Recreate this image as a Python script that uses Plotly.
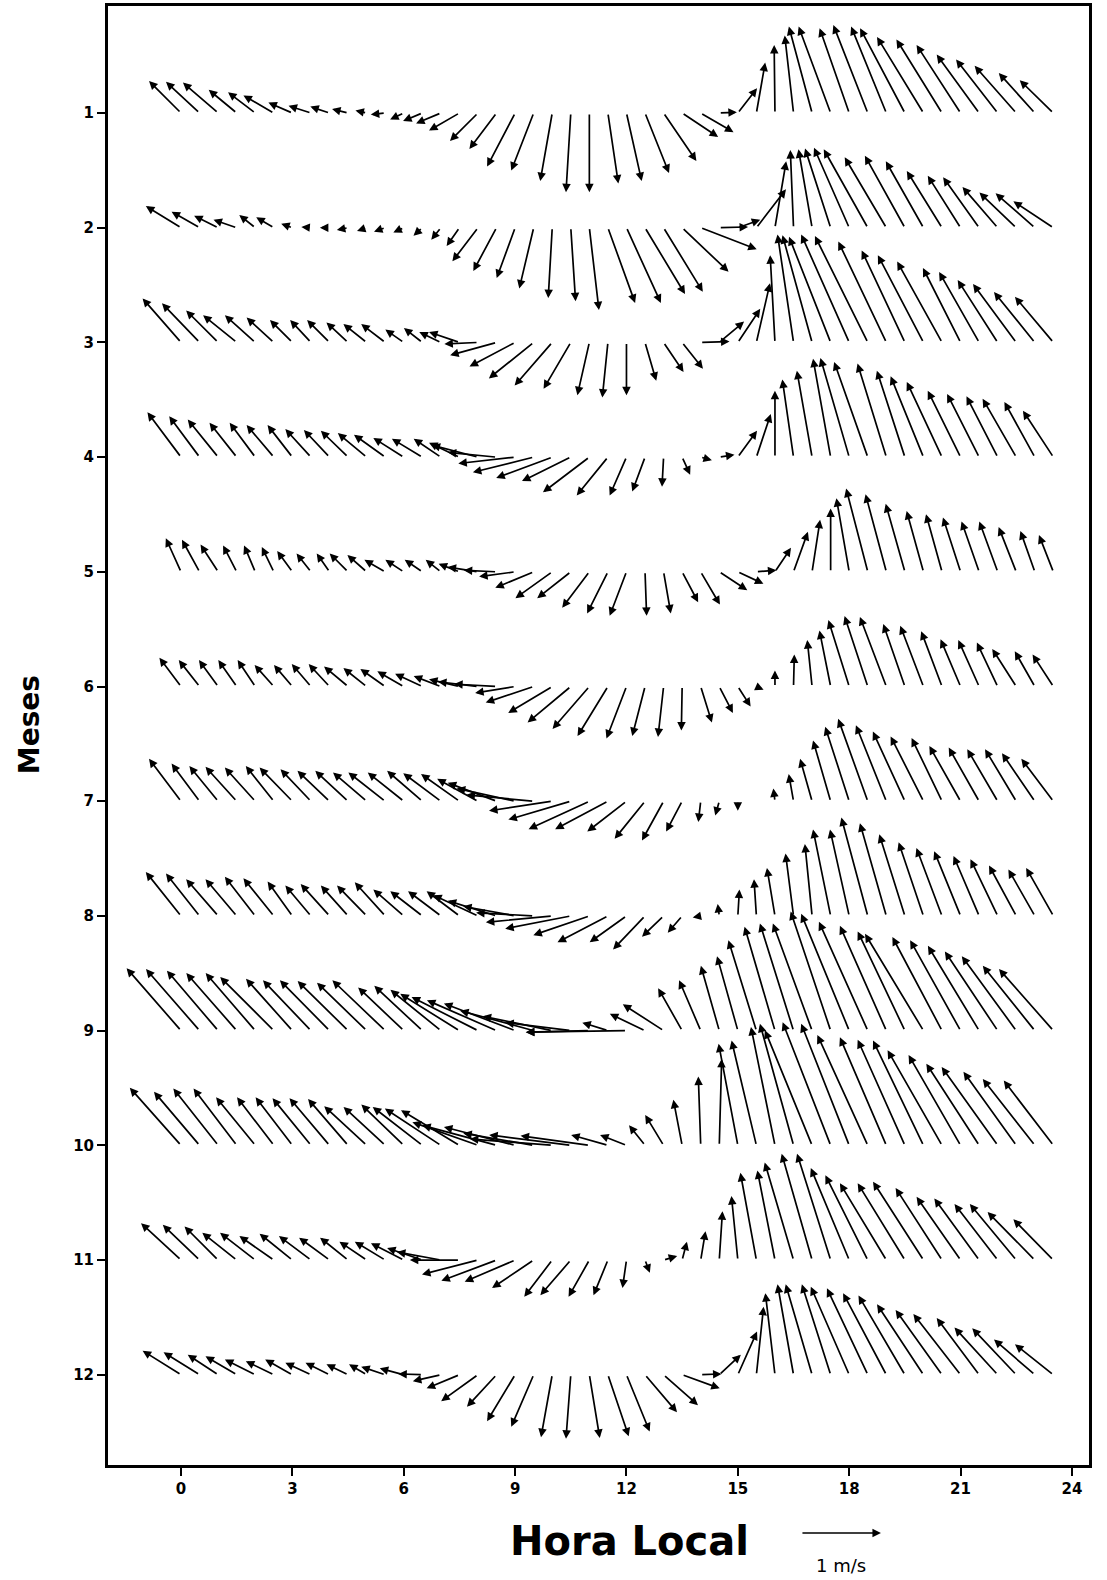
import plotly.graph_objects as go

# ---------------- data (wind components, m/s) ----------------
HOURS = [0, 0.5, 1, 1.5, 2, 2.5, 3, 3.5, 4, 4.5, 5, 5.5, 6, 6.5, 7, 7.5,
         8, 8.5, 9, 9.5, 10, 10.5, 11, 11.5, 12, 12.5, 13, 13.5, 14, 14.5, 15, 15.5,
         16, 16.5, 17, 17.5, 18, 18.5, 19, 19.5, 20, 20.5, 21, 21.5, 22, 22.5, 23, 23.5]
MONTHS = [1, 2, 3, 4, 5, 6, 7, 8, 9, 10, 11, 12]
X_TICKS = [0, 3, 6, 9, 12, 15, 18, 21, 24]

u01 = [-0.40,-0.42,-0.44,-0.35,-0.34,-0.38,-0.30,-0.28,-0.24,-0.20,-0.14,-0.18,-0.17,-0.24,-0.31,-0.38,
       -0.35,-0.34,-0.35,-0.28,-0.15,-0.06,0.00,0.13,0.19,0.30,0.41,0.45,0.41,0.22,0.24,0.11,
       -0.01,-0.11,-0.29,-0.40,-0.37,-0.43,-0.44,-0.56,-0.58,-0.57,-0.55,-0.53,-0.52,-0.52,-0.45,-0.42]
v01 = [0.40,0.39,0.38,0.29,0.26,0.22,0.13,0.09,0.08,0.05,0.03,-0.02,-0.08,-0.10,-0.13,-0.22,
       -0.35,-0.45,-0.67,-0.72,-0.85,-0.99,-0.99,-0.88,-0.85,-0.75,-0.60,-0.30,-0.24,0.01,0.31,0.63,
       0.85,0.97,1.08,1.08,1.06,1.10,1.08,1.06,0.95,0.92,0.85,0.73,0.67,0.59,0.50,0.41]

u02 = [-0.44,-0.35,-0.30,-0.29,-0.20,-0.22,-0.14,-0.12,-0.12,-0.14,-0.12,-0.14,-0.13,-0.11,-0.12,-0.16,
       -0.32,-0.29,-0.23,-0.18,-0.05,0.06,0.12,0.34,0.43,0.50,0.49,0.58,0.70,0.36,0.28,0.37,
       0.14,-0.04,-0.17,-0.32,-0.44,-0.55,-0.52,-0.50,-0.47,-0.44,-0.41,-0.45,-0.44,-0.46,-0.49,-0.50]
v02 = [0.27,0.20,0.15,0.10,0.16,0.13,0.05,0.01,0.00,-0.03,-0.04,-0.05,-0.06,-0.10,-0.15,-0.23,
       -0.42,-0.54,-0.63,-0.76,-0.88,-0.92,-1.03,-0.94,-0.94,-0.83,-0.80,-0.55,-0.27,0.01,0.10,0.48,
       0.83,0.97,0.98,0.99,1.00,0.98,0.88,0.90,0.83,0.71,0.65,0.63,0.51,0.44,0.43,0.33]

u03 = [-0.48,-0.47,-0.40,-0.42,-0.38,-0.34,-0.28,-0.26,-0.28,-0.27,-0.29,-0.30,-0.23,-0.23,-0.27,-0.38,
       -0.42,-0.58,-0.57,-0.56,-0.47,-0.34,-0.15,-0.07,0.00,0.14,0.25,0.26,0.36,0.31,0.28,0.17,
       -0.06,-0.20,-0.37,-0.52,-0.60,-0.66,-0.60,-0.54,-0.57,-0.56,-0.47,-0.50,-0.50,-0.54,-0.51,-0.48]
v03 = [0.55,0.49,0.40,0.34,0.34,0.31,0.28,0.28,0.28,0.25,0.23,0.23,0.16,0.18,0.13,0.13,
       -0.02,-0.16,-0.30,-0.45,-0.54,-0.58,-0.66,-0.69,-0.66,-0.48,-0.37,-0.33,0.01,0.26,0.42,0.74,
       1.09,1.35,1.34,1.32,1.35,1.33,1.26,1.15,1.09,1.01,0.93,0.88,0.78,0.73,0.63,0.57]

u04 = [-0.42,-0.38,-0.38,-0.34,-0.32,-0.34,-0.31,-0.32,-0.32,-0.34,-0.36,-0.39,-0.38,-0.38,-0.34,-0.38,
       -0.58,-0.61,-0.71,-0.76,-0.70,-0.61,-0.58,-0.39,-0.21,-0.16,-0.02,0.10,0.14,0.19,0.24,0.18,
       0.00,-0.14,-0.19,-0.22,-0.36,-0.42,-0.36,-0.35,-0.41,-0.44,-0.41,-0.40,-0.39,-0.42,-0.38,-0.38]
v04 = [0.56,0.51,0.47,0.43,0.43,0.40,0.40,0.35,0.34,0.33,0.30,0.28,0.24,0.23,0.23,0.18,
       0.15,0.06,-0.08,-0.19,-0.26,-0.30,-0.44,-0.48,-0.48,-0.43,-0.37,-0.22,-0.04,0.03,0.33,0.54,
       0.83,0.97,1.08,1.23,1.24,1.19,1.17,1.08,1.01,0.94,0.83,0.79,0.76,0.73,0.69,0.58]

u05 = [-0.19,-0.22,-0.22,-0.17,-0.14,-0.15,-0.19,-0.18,-0.16,-0.23,-0.24,-0.26,-0.23,-0.22,-0.19,-0.26,
       -0.38,-0.41,-0.45,-0.48,-0.46,-0.42,-0.34,-0.26,-0.21,0.02,0.09,0.20,0.24,0.35,0.32,0.25,
       0.20,0.18,0.10,0.00,-0.16,-0.27,-0.26,-0.24,-0.21,-0.20,-0.22,-0.22,-0.23,-0.22,-0.18,-0.18]
v05 = [0.42,0.40,0.34,0.33,0.33,0.31,0.26,0.23,0.23,0.23,0.21,0.15,0.15,0.15,0.15,0.10,
       0.06,0.02,-0.06,-0.20,-0.33,-0.33,-0.45,-0.52,-0.55,-0.55,-0.52,-0.38,-0.41,-0.23,-0.15,0.02,
       0.30,0.50,0.65,0.79,0.92,1.04,0.97,0.85,0.76,0.72,0.68,0.63,0.63,0.56,0.51,0.46]

u06 = [-0.27,-0.26,-0.24,-0.23,-0.22,-0.24,-0.23,-0.24,-0.26,-0.30,-0.29,-0.31,-0.33,-0.34,-0.34,-0.38,
       -0.50,-0.53,-0.50,-0.60,-0.55,-0.54,-0.46,-0.38,-0.25,-0.16,-0.07,-0.01,0.14,0.17,0.16,0.09,
       0.00,0.01,-0.06,-0.14,-0.26,-0.29,-0.33,-0.27,-0.29,-0.26,-0.25,-0.26,-0.26,-0.30,-0.25,-0.26]
v06 = [0.36,0.33,0.33,0.33,0.33,0.27,0.27,0.28,0.28,0.25,0.23,0.22,0.19,0.16,0.13,0.09,
       0.06,0.03,-0.08,-0.20,-0.33,-0.45,-0.53,-0.62,-0.65,-0.62,-0.63,-0.55,-0.45,-0.33,-0.25,-0.04,
       0.20,0.40,0.58,0.70,0.83,0.88,0.87,0.78,0.76,0.69,0.59,0.58,0.55,0.47,0.44,0.40]

u07 = [-0.40,-0.35,-0.36,-0.39,-0.38,-0.35,-0.41,-0.38,-0.40,-0.41,-0.42,-0.46,-0.45,-0.44,-0.47,-0.48,
       -0.51,-0.61,-0.73,-0.84,-0.79,-0.78,-0.76,-0.66,-0.49,-0.38,-0.27,-0.20,-0.03,-0.05,0.00,-0.03,
       -0.02,-0.06,-0.15,-0.22,-0.30,-0.37,-0.38,-0.40,-0.41,-0.38,-0.39,-0.38,-0.38,-0.39,-0.41,-0.40]
v07 = [0.53,0.47,0.44,0.43,0.42,0.44,0.42,0.40,0.38,0.38,0.36,0.36,0.36,0.38,0.35,0.34,
       0.28,0.23,0.16,0.08,-0.12,-0.23,-0.35,-0.35,-0.38,-0.47,-0.49,-0.38,-0.26,-0.18,-0.12,-0.04,
       0.16,0.34,0.53,0.76,0.93,1.03,0.95,0.87,0.81,0.79,0.69,0.67,0.65,0.65,0.60,0.53]

u08 = [-0.44,-0.42,-0.40,-0.39,-0.38,-0.38,-0.31,-0.32,-0.36,-0.34,-0.37,-0.38,-0.38,-0.40,-0.41,-0.41,
       -0.56,-0.61,-0.65,-0.72,-0.83,-0.82,-0.70,-0.63,-0.46,-0.40,-0.27,-0.18,-0.10,-0.02,0.02,-0.03,
       -0.10,-0.10,-0.09,-0.22,-0.24,-0.33,-0.33,-0.32,-0.31,-0.32,-0.33,-0.32,-0.34,-0.34,-0.33,-0.34]
v08 = [0.55,0.53,0.46,0.46,0.49,0.47,0.43,0.38,0.40,0.38,0.38,0.42,0.33,0.31,0.31,0.31,
       0.26,0.19,0.12,0.04,-0.08,-0.16,-0.24,-0.33,-0.33,-0.42,-0.26,-0.21,-0.02,0.15,0.33,0.46,
       0.60,0.78,0.90,1.08,1.08,1.23,1.16,1.02,0.92,0.85,0.81,0.75,0.71,0.63,0.58,0.60]

u09 = [-0.68,-0.67,-0.64,-0.63,-0.62,-0.67,-0.58,-0.60,-0.62,-0.63,-0.62,-0.66,-0.57,-0.60,-0.63,-0.74,
       -0.83,-0.87,-0.89,-0.92,-0.87,-0.82,-0.79,-0.32,-1.26,-0.44,-0.51,-0.30,-0.27,-0.23,-0.26,-0.35,
       -0.38,-0.42,-0.49,-0.50,-0.60,-0.61,-0.58,-0.59,-0.73,-0.62,-0.63,-0.64,-0.66,-0.68,-0.65,-0.68]
v09 = [0.78,0.77,0.75,0.72,0.72,0.67,0.65,0.63,0.63,0.62,0.60,0.63,0.54,0.56,0.51,0.46,
       0.42,0.38,0.34,0.25,0.18,0.10,-0.02,0.10,-0.02,0.21,0.33,0.53,0.63,0.81,0.93,1.13,
       1.30,1.34,1.34,1.49,1.46,1.36,1.31,1.24,1.21,1.17,1.13,1.06,0.99,0.93,0.81,0.77]

u10 = [-0.64,-0.57,-0.56,-0.54,-0.49,-0.46,-0.46,-0.48,-0.50,-0.50,-0.53,-0.52,-0.53,-0.62,-0.70,-0.73,
       -0.82,-0.93,-0.89,-0.88,-1.03,-1.02,-0.86,-0.46,-0.33,-0.20,-0.23,-0.11,-0.03,0.03,-0.24,-0.31,
       -0.30,-0.42,-0.59,-0.60,-0.60,-0.63,-0.58,-0.59,-0.63,-0.68,-0.65,-0.66,-0.70,-0.66,-0.65,-0.62]
v10 = [0.72,0.67,0.71,0.71,0.60,0.60,0.60,0.59,0.59,0.58,0.49,0.48,0.51,0.48,0.46,0.44,
       0.29,0.25,0.23,0.15,0.08,0.13,0.12,0.13,0.13,0.25,0.38,0.57,0.86,1.08,1.27,1.31,
       1.48,1.52,1.44,1.54,1.52,1.38,1.35,1.32,1.31,1.19,1.13,1.02,0.98,0.92,0.83,0.81]

u11 = [-0.50,-0.46,-0.42,-0.43,-0.44,-0.43,-0.41,-0.40,-0.38,-0.35,-0.34,-0.38,-0.41,-0.44,-0.55,-0.62,
       -0.70,-0.69,-0.63,-0.52,-0.35,-0.38,-0.26,-0.18,-0.05,0.06,0.17,0.06,0.06,0.04,-0.08,-0.20,
       -0.22,-0.36,-0.38,-0.42,-0.48,-0.53,-0.58,-0.59,-0.63,-0.58,-0.55,-0.56,-0.54,-0.58,-0.59,-0.50]
v11 = [0.46,0.44,0.42,0.34,0.34,0.30,0.33,0.30,0.28,0.28,0.23,0.23,0.21,0.15,0.10,0.00,
       -0.18,-0.26,-0.27,-0.35,-0.46,-0.44,-0.46,-0.44,-0.35,-0.16,0.05,0.23,0.36,0.61,0.80,1.09,
       1.12,1.22,1.33,1.33,1.15,1.06,0.96,0.96,0.98,0.90,0.79,0.77,0.70,0.70,0.60,0.51]

u12 = [-0.48,-0.45,-0.38,-0.39,-0.38,-0.35,-0.34,-0.32,-0.30,-0.27,-0.22,-0.30,-0.30,-0.30,-0.35,-0.41,
       -0.46,-0.37,-0.35,-0.28,-0.14,-0.06,0.13,0.26,0.29,0.40,0.43,0.47,0.26,0.27,0.24,0.09,
       -0.12,-0.20,-0.33,-0.36,-0.48,-0.51,-0.54,-0.58,-0.58,-0.58,-0.59,-0.53,-0.54,-0.55,-0.51,-0.48]
v12 = [0.30,0.28,0.25,0.23,0.19,0.17,0.19,0.15,0.15,0.13,0.13,0.10,0.08,0.01,-0.08,-0.17,
       -0.33,-0.40,-0.58,-0.65,-0.78,-0.80,-0.79,-0.77,-0.71,-0.47,-0.38,-0.17,0.01,0.25,0.54,0.85,
       1.02,1.13,1.13,1.13,1.10,1.08,1.02,0.99,0.88,0.81,0.76,0.71,0.59,0.58,0.44,0.38]

U_ROWS = [u01, u02, u03, u04, u05, u06, u07, u08, u09, u10, u11, u12]
V_ROWS = [v01, v02, v03, v04, v05, v06, v07, v08, v09, v10, v11, v12]

REF_SPEED = 1.0   # reference vector, m/s
REF_LABEL = "1 m/s"
X_TITLE = "Hora Local"
Y_TITLE = "Meses"

# ---------------- geometry ----------------
W, H = 1107, 1580
ML, MR, MT, MB = 108, 18, 6, 115
X_RANGE = [-1.967, 24.46]
Y_RANGE = [12.787, 0.067]       # reversed: month 1 at top
PX_PER_MS = 80.0                # arrow length (px) for 1 m/s

plot_w = W - ML - MR
plot_h = H - MT - MB
px_per_x = plot_w / (X_RANGE[1] - X_RANGE[0])
px_per_y = plot_h / (Y_RANGE[0] - Y_RANGE[1])

ARROW = dict(arrowhead=2, arrowsize=1.0, arrowwidth=1.7, arrowcolor="black")

annotations = []
for m, us, vs in zip(MONTHS, U_ROWS, V_ROWS):
    for h, u, v in zip(HOURS, us, vs):
        tip_x = h + u * PX_PER_MS / px_per_x
        tip_y = m - v * PX_PER_MS / px_per_y
        annotations.append(dict(
            x=tip_x, y=tip_y, ax=h, ay=m,
            xref="x", yref="y", axref="x", ayref="y",
            text="", showarrow=True, **ARROW,
        ))

# reference vector below the plot
ref_tail_x = 16.7
annotations.append(dict(
    x=ref_tail_x + REF_SPEED * PX_PER_MS / px_per_x, y=-0.0466,
    xref="x", yref="paper",
    ax=-REF_SPEED * PX_PER_MS, ay=0, axref="pixel", ayref="pixel",
    text="", showarrow=True, **ARROW,
))
annotations.append(dict(
    x=ref_tail_x + 0.5 * REF_SPEED * PX_PER_MS / px_per_x, y=-0.0600,
    xref="x", yref="paper", yanchor="top", xanchor="center", showarrow=False,
    text=REF_LABEL, font=dict(family="DejaVu Sans", size=18, color="black"),
))
# axis titles
annotations.append(dict(
    x=0.5317, y=-0.0521, xref="paper", yref="paper",
    xanchor="center", yanchor="middle", showarrow=False,
    text=X_TITLE, font=dict(family="DejaVu Sans", size=40, color="black", weight="bold"),
))
annotations.append(dict(
    x=-0.0793, y=0.5072, xref="paper", yref="paper",
    xanchor="center", yanchor="middle", showarrow=False, textangle=-90,
    text=Y_TITLE, font=dict(family="DejaVu Sans", size=28, color="black", weight="bold"),
))

fig = go.Figure()
fig.add_trace(go.Scatter(x=[None], y=[None], mode="markers", showlegend=False, hoverinfo="skip"))

fig.update_layout(
    width=W, height=H,
    margin=dict(l=ML, r=MR, t=MT, b=MB, pad=0, autoexpand=False),
    paper_bgcolor="white", plot_bgcolor="white",
    showlegend=False,
    annotations=annotations,
    font=dict(family="DejaVu Sans", color="black"),
)
fig.update_xaxes(
    range=X_RANGE, tickmode="array", tickvals=X_TICKS,
    ticktext=[str(t) for t in X_TICKS], automargin=False,
    showgrid=False, zeroline=False,
    showline=True, linewidth=3, linecolor="black", mirror=True,
    ticks="outside", ticklen=8, tickwidth=2, tickcolor="black",
    tickfont=dict(family="DejaVu Sans", size=15, color="black", weight="bold"),
)
fig.update_yaxes(
    range=Y_RANGE, tickmode="array", tickvals=MONTHS,
    ticktext=[str(m) for m in MONTHS], automargin=False,
    showgrid=False, zeroline=False,
    showline=True, linewidth=3, linecolor="black", mirror=True,
    ticks="outside", ticklen=8, tickwidth=2, tickcolor="black",
    tickfont=dict(family="DejaVu Sans", size=15, color="black", weight="bold"),
)

fig.write_html(
    "out.html",
    config={"displayModeBar": False},
    post_script="document.body.style.margin='0px';document.body.style.padding='0px';",
)
